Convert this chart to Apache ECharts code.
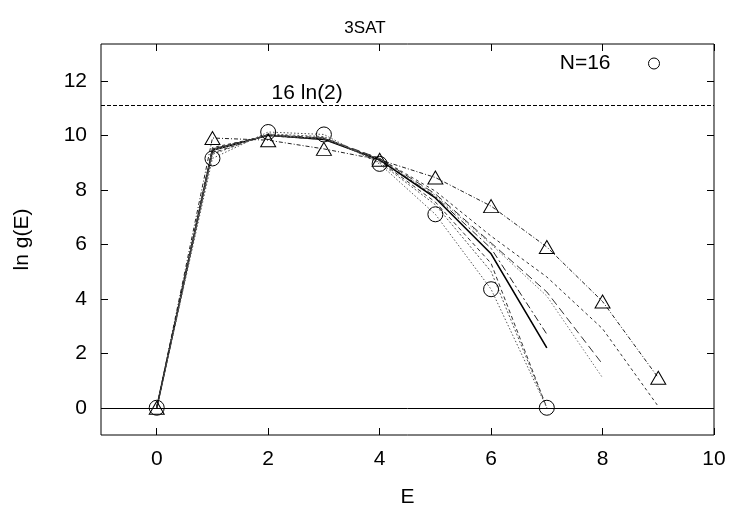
<!DOCTYPE html>
<html>
<head>
<meta charset="utf-8">
<script src="https://cdn.jsdelivr.net/npm/echarts@6/dist/echarts.min.js"></script>
<style>html,body{margin:0;padding:0;background:#fff;}#c{width:730px;height:508px;}</style>
</head>
<body>
<div id="c"></div>
<script>
// ---- data ----
var energies = [0, 1, 2, 3, 4, 5, 6, 7, 8, 9];
var circleN16 = [0, 9.15, 10.12, 10.03, 8.95, 7.1, 4.35, 0];
var triangles = [0, 9.9, 9.82, 9.5, 9.1, 8.45, 7.4, 5.9, 3.9, 1.1];
var solidCurve = [0, 9.45, 10.0, 9.85, 9.1, 7.7, 5.65, 2.2];
var curveA = [0, 9.5, 10.0, 9.88, 9.12, 7.75, 5.85, 2.7];
var curveB = [0, 9.35, 10.02, 9.9, 9.05, 7.55, 5.3, 0];
var curveC = [0, 9.3, 10.05, 9.95, 9.0, 7.45, 5.0, 0];
var curveD = [0, 9.5, 10.0, 9.9, 9.15, 7.85, 6.05, 4.25, 1.6];
var curveE = [0, 9.45, 10.0, 9.88, 9.12, 7.8, 6.0, 4.1, 1.1];
var curveF = [0, 9.55, 9.98, 9.85, 9.15, 7.95, 6.3, 4.8, 2.9, 0.05];
var xTicks = [0, 2, 4, 6, 8, 10];
var yTicks = [0, 2, 4, 6, 8, 10, 12];
var ln2Level = 16 * Math.log(2);
var ln2Label = '16 ln(2)';
var legendName = 'N=16';

function pairs(vals) {
  return vals.map(function (v, i) { return [energies[i], v]; });
}

var FONT = 'Liberation Sans, Arial, sans-serif';
var FS = 21;

function curve(name, vals, type, color, width) {
  return {
    name: name, type: 'line', data: pairs(vals), symbol: 'none',
    lineStyle: { color: color || '#000', width: width || 1, type: type },
    z: 2, silent: true, animation: false
  };
}

var chart = echarts.init(document.getElementById('c'));
function tick(vals) {
  return { show: true, inside: true, length: 7, customValues: vals, lineStyle: { color: '#000', width: 1 } };
}
var noLine = { show: false, onZero: false };

chart.setOption({
  animation: false,
  backgroundColor: '#fff',
  title: {
    text: '3SAT', left: 'center', top: 15,
    textStyle: { fontFamily: FONT, fontSize: 17, fontWeight: 'normal', color: '#000' }
  },
  legend: {
    data: [{ name: legendName, icon: 'circle' }],
    right: 70, top: 53, align: 'right', padding: 0,
    itemWidth: 11, itemHeight: 11,
    itemStyle: { color: 'transparent', borderColor: '#000', borderWidth: 1 },
    textStyle: { fontFamily: FONT, fontSize: FS, color: '#000', padding: [0, 33, 0, 0] },
    selectedMode: false
  },
  grid: { left: 101, right: 16, top: 44, bottom: 73, outerBoundsMode: 'none', containLabel: false, show: true, borderColor: '#000', borderWidth: 1, backgroundColor: 'transparent' },
  xAxis: [
    {
      type: 'value', min: -1, max: 10, interval: 1, position: 'bottom',
      splitLine: { show: false }, axisLine: noLine,
      name: 'E', nameLocation: 'middle', nameGap: 52,
      nameTextStyle: { fontFamily: FONT, fontSize: FS, color: '#000' },
      axisTick: tick(xTicks),
      axisLabel: { customValues: xTicks, fontFamily: FONT, fontSize: FS, color: '#000', margin: 14 }
    },
    {
      type: 'value', min: -1, max: 10, interval: 1, position: 'top',
      splitLine: { show: false }, axisLine: noLine,
      axisTick: tick(xTicks), axisLabel: { show: false }
    }
  ],
  yAxis: [
    {
      type: 'value', min: -1, max: 13.35, interval: 1, position: 'left',
      splitLine: { show: false }, axisLine: noLine,
      name: 'ln g(E)', nameLocation: 'middle', nameGap: 68, nameRotate: 90,
      nameTextStyle: { fontFamily: FONT, fontSize: FS, color: '#000' },
      axisTick: tick(yTicks),
      axisLabel: { customValues: yTicks, fontFamily: FONT, fontSize: FS, color: '#000', margin: 14 }
    },
    {
      type: 'value', min: -1, max: 13.35, interval: 1, position: 'right',
      splitLine: { show: false }, axisLine: noLine,
      axisTick: tick(yTicks), axisLabel: { show: false }
    }
  ],
  series: [
    {
      name: 'ref', type: 'line', data: [], silent: true,
      markLine: {
        silent: true, symbol: 'none', animation: false,
        label: { show: false },
        data: [
          { yAxis: ln2Level, lineStyle: { color: '#000', width: 1, type: [4, 2] } },
          { yAxis: 0, lineStyle: { color: '#000', width: 1, type: 'solid' } }
        ]
      },
      markPoint: {
        symbol: 'circle', symbolSize: 0, silent: true,
        data: [{ coord: [2.7, ln2Level], value: 0 }],
        label: { show: true, formatter: ln2Label, position: 'top', distance: 2, fontFamily: FONT, fontSize: FS, color: '#000' }
      }
    },
    curve('c1', solidCurve, 'solid', '#000', 1.6),
    curve('cA', curveA, [7, 3, 2, 3], '#222', 1),
    curve('cB', curveB, [4, 3], '#333', 1),
    curve('cC', curveC, [2, 2], '#555', 1),
    curve('cD', curveD, [8, 4], '#333', 1),
    curve('cE', curveE, [1.5, 2], '#777', 1),
    curve('cF', curveF, [3, 3], '#333', 1),
    {
      name: legendName, type: 'line', data: pairs(circleN16),
      symbol: 'circle', symbolSize: 15, showSymbol: true,
      itemStyle: { color: 'transparent', borderColor: '#000', borderWidth: 1 },
      lineStyle: { color: '#555', width: 1, type: [1.5, 2] }, z: 3, silent: true
    },
    {
      name: 'tri', type: 'line', data: pairs(triangles),
      symbol: 'triangle', symbolSize: [15, 13], showSymbol: true,
      itemStyle: { color: 'transparent', borderColor: '#000', borderWidth: 1 },
      lineStyle: { color: '#222', width: 1, type: [4, 2, 1, 2] }, z: 3, silent: true
    }
  ]
});
</script>
</body>
</html>
